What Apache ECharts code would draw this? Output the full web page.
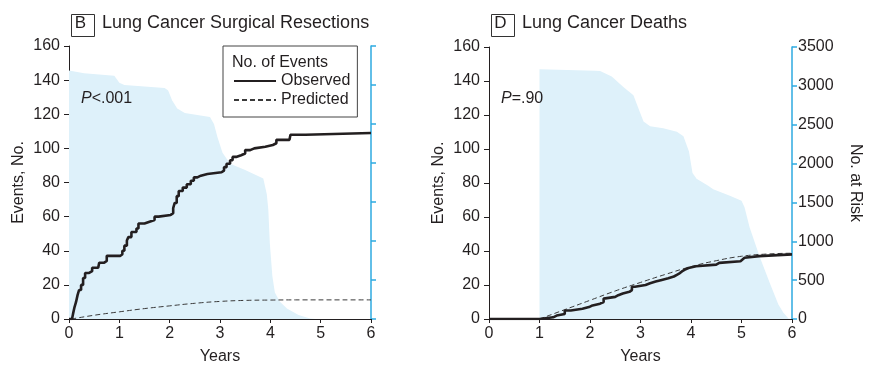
<!DOCTYPE html>
<html>
<head>
<meta charset="utf-8">
<script src="https://cdn.jsdelivr.net/npm/echarts@6/dist/echarts.min.js"></script>
<style>
  html, body { margin: 0; padding: 0; background: #fff; }
  #chart { width: 873px; height: 370px; }
</style>
</head>
<body>
<div id="chart"></div>
<script>
// Panel B: lung cancer surgical resections — [years, cumulative events]
var resectionObserved = [
  [0, 0], [0.06, 0], [0.08, 3], [0.11, 7], [0.14, 10], [0.17, 14], [0.2, 17], [0.24, 20],
  [0.28, 24], [0.32, 27], [0.4, 28], [0.46, 30], [0.58, 31], [0.6, 33], [0.7, 34], [0.75, 37],
  [1.02, 38], [1.06, 40], [1.1, 43], [1.15, 46], [1.18, 48], [1.24, 51], [1.34, 53], [1.38, 56],
  [1.5, 57], [1.6, 58], [1.7, 60], [1.78, 61], [2.02, 62], [2.07, 65], [2.1, 68], [2.14, 72],
  [2.18, 75], [2.26, 77], [2.34, 79], [2.42, 81], [2.48, 83], [2.55, 84], [2.62, 85], [2.75, 86],
  [3.03, 87], [3.08, 89], [3.13, 91], [3.2, 93], [3.25, 95], [3.32, 96], [3.42, 97], [3.5, 99],
  [3.6, 100], [3.68, 101], [3.9, 102], [4.05, 103], [4.12, 105], [4.38, 106], [4.4, 108],
  [4.7, 109], [6, 109]
];
var resectionPredicted = [
  [0.05, 0], [0.5, 2.2], [1, 4.2], [1.5, 6.1], [2, 7.7], [2.5, 9.2], [3, 10.3], [3.5, 10.9],
  [4, 11.1], [4.5, 11.2], [6, 11.2]
];
// Participants at risk (right axis) — [years, count]
var resectionAtRisk = [
  [0, 3185], [0.3, 3150], [0.9, 3120], [1.0, 3030], [1.1, 3000], [1.9, 2960], [1.97, 2930],
  [2.05, 2800], [2.15, 2700], [2.3, 2640], [2.8, 2590], [2.88, 2500], [2.95, 2330], [3.05, 2130],
  [3.2, 1990], [3.5, 1910], [3.86, 1800], [3.93, 1600], [3.96, 1400], [3.99, 970], [4.04, 550],
  [4.09, 340], [4.19, 220], [4.33, 135], [4.56, 50], [4.79, 8], [4.9, 0]
];

// Panel D: lung cancer deaths
var deathsObserved = [
  [0, 0], [1.0, 0], [1.02, 1], [1.27, 2], [1.34, 3], [1.5, 5], [1.62, 6], [1.85, 7], [1.98, 8],
  [2.05, 9], [2.2, 10], [2.27, 12], [2.3, 13], [2.5, 14], [2.56, 15], [2.65, 16], [2.78, 17],
  [2.83, 19], [2.89, 20], [3.1, 21], [3.19, 22], [3.3, 23], [3.42, 24], [3.55, 25], [3.66, 26],
  [3.72, 27], [3.78, 28], [3.82, 29], [3.88, 30], [3.95, 31], [4.1, 32], [4.5, 33], [4.56, 34],
  [4.98, 35], [5.02, 36], [5.06, 37], [5.35, 38], [6, 38]
];
var deathsPredicted = [
  [1, 0], [1.5, 5.5], [2, 11], [2.5, 16.5], [3, 21.5], [3.5, 26.3], [4, 30.8], [4.5, 34.3],
  [5, 36.9], [5.5, 38.2], [6, 38.7]
];
var deathsAtRisk = [
  [1, 3213], [2.1, 3195], [2.2, 3190], [2.43, 3120], [2.66, 2985], [2.86, 2878], [2.96, 2710],
  [3.06, 2540], [3.19, 2480], [3.45, 2455], [3.72, 2410], [3.85, 2350], [3.96, 2155], [4.03, 1880],
  [4.11, 1805], [4.34, 1715], [4.44, 1669], [4.77, 1585], [5.0, 1521], [5.06, 1437], [5.16, 1182],
  [5.36, 801], [5.56, 462], [5.73, 186], [5.83, 80], [5.93, 8], [6, 0]
];

var yearTicks = [0, 1, 2, 3, 4, 5, 6];
var panelLetters = ['B', 'D'];
var panelTitles = ['Lung Cancer Surgical Resections', 'Lung Cancer Deaths'];
var pValues = ['<.001', '=.90'];

var FONT = '"Liberation Sans", Arial, Helvetica, sans-serif';
var INK = '#231f20';
var RISK_BLUE = '#2eaae1';
var AREA_FILL = '#def1fa';

var grids = [
  { left: 69, top: 46, width: 302, height: 278 },
  { left: 489, top: 47, width: 303, height: 277 }
];

function xAxisFor(i) {
  return {
    type: 'value', gridIndex: i, min: yearTicks[0], max: yearTicks[yearTicks.length - 1], interval: 1,
    name: 'Years', nameLocation: 'middle', nameGap: 30,
    nameTextStyle: { fontFamily: FONT, fontSize: 16, color: INK },
    axisLine: { lineStyle: { color: INK, width: 1 } },
    axisTick: { length: 4, lineStyle: { color: INK } },
    axisLabel: { fontFamily: FONT, fontSize: 16, color: INK, margin: 7 },
    splitLine: { show: false }
  };
}
function eventsAxisFor(i) {
  return {
    type: 'value', gridIndex: i, position: 'left', min: 0, max: 160, interval: 20,
    name: 'Events, No.', nameLocation: 'middle', nameGap: 42,
    nameTextStyle: { fontFamily: FONT, fontSize: 16, color: INK },
    axisLine: { show: true, lineStyle: { color: INK, width: 1 } },
    axisTick: { show: true, length: 5, lineStyle: { color: INK } },
    axisLabel: { fontFamily: FONT, fontSize: 16, color: INK, margin: 9 },
    splitLine: { show: false }
  };
}
function riskAxisFor(i, labelled) {
  return {
    type: 'value', gridIndex: i, position: 'right', min: 0, max: 3500, interval: 500,
    name: labelled ? 'No. at Risk' : '', nameLocation: 'middle', nameGap: 55, nameRotate: -90,
    nameTextStyle: { fontFamily: FONT, fontSize: 16, color: INK },
    axisLine: { show: true, lineStyle: { color: RISK_BLUE, width: 1.5 } },
    axisTick: { show: true, length: 5, lineStyle: { color: RISK_BLUE, width: 1.5 } },
    axisLabel: {
      show: labelled, fontFamily: FONT, fontSize: 16, color: INK, margin: 6,
      formatter: function (v) { return String(v); }
    },
    splitLine: { show: false }
  };
}

function riskSeries(data, axisIdx) {
  return {
    name: 'at risk', type: 'line', xAxisIndex: axisIdx, yAxisIndex: axisIdx * 2 + 1,
    data: data, showSymbol: false, symbol: 'none', silent: true, z: 1,
    lineStyle: { width: 0, color: AREA_FILL }, itemStyle: { color: AREA_FILL },
    areaStyle: { color: AREA_FILL, opacity: 1 }
  };
}
function observedSeries(data, axisIdx) {
  return {
    name: 'Observed', type: 'line', xAxisIndex: axisIdx, yAxisIndex: axisIdx * 2,
    data: data, step: 'end', symbol: 'none', showSymbol: false, z: 4,
    lineStyle: { color: INK, width: 2.6 }, itemStyle: { color: INK }
  };
}
function predictedSeries(data, axisIdx) {
  return {
    name: 'Predicted', type: 'line', xAxisIndex: axisIdx, yAxisIndex: axisIdx * 2,
    data: data, smooth: true, symbol: 'none', showSymbol: false, z: 3,
    lineStyle: { color: '#3a3a3a', width: 1, type: [5, 3] }, itemStyle: { color: '#3a3a3a' }
  };
}

function panelHeader(i, boxX, textX) {
  return [
    { type: 'rect', left: boxX, top: 12, shape: { width: 23, height: 22 },
      style: { fill: 'none', stroke: '#333', lineWidth: 1 } },
    { type: 'text', x: boxX + 11.5, y: 23,
      style: { text: panelLetters[i], font: '17px ' + FONT, fill: INK, textAlign: 'center', textVerticalAlign: 'middle' } },
    { type: 'text', x: textX, y: 23,
      style: { text: panelTitles[i], font: '18px ' + FONT, fill: INK, textAlign: 'left', textVerticalAlign: 'middle' } }
  ];
}
function pLabel(i, x) {
  return {
    type: 'text', x: x, y: 99, z: 10,
    style: {
      text: '{i|P}' + pValues[i], font: '16px ' + FONT, fill: INK, textVerticalAlign: 'middle',
      rich: { i: { fontStyle: 'italic', fontFamily: FONT, fontSize: 16, color: INK } }
    }
  };
}

var chart = echarts.init(document.getElementById('chart'), null, { renderer: 'canvas' });
chart.setOption({
  animation: false,
  backgroundColor: '#fff',
  grid: grids,
  xAxis: [xAxisFor(0), xAxisFor(1)],
  yAxis: [eventsAxisFor(0), riskAxisFor(0, false), eventsAxisFor(1), riskAxisFor(1, true)],
  legend: {
    data: ['Observed', 'Predicted'], orient: 'vertical', left: 223, top: 46,
    padding: [27, 7, 9, 10], itemGap: 3, itemWidth: 42, itemHeight: 14,
    borderColor: '#444', borderWidth: 1, backgroundColor: '#fff',
    itemStyle: { opacity: 0 },
    textStyle: { fontFamily: FONT, fontSize: 16, color: INK }, selectedMode: false
  },
  graphic: [].concat(
    panelHeader(0, 69, 102),
    panelHeader(1, 489, 522),
    [
      { type: 'text', x: 232, y: 63, z: 100,
        style: { text: 'No. of Events', font: '16px ' + FONT, fill: INK, textVerticalAlign: 'middle' } },
      pLabel(0, 81),
      pLabel(1, 501)
    ]
  ),
  series: [
    riskSeries(resectionAtRisk, 0),
    predictedSeries(resectionPredicted, 0),
    observedSeries(resectionObserved, 0),
    riskSeries(deathsAtRisk, 1),
    predictedSeries(deathsPredicted, 1),
    observedSeries(deathsObserved, 1)
  ]
});
</script>
</body>
</html>
